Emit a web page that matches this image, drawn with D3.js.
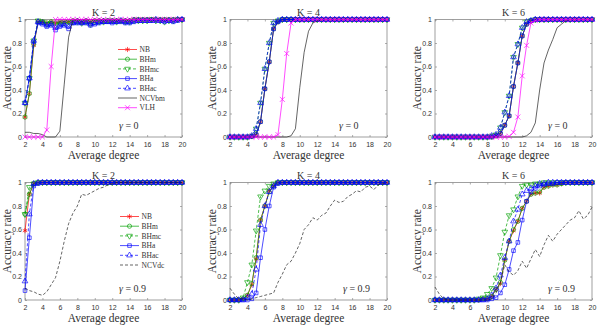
<!DOCTYPE html>
<html>
<head>
<meta charset="utf-8">
<script src="https://cdn.jsdelivr.net/npm/d3@7"></script>
<style>
  body { margin: 0; background: #fff; }
  svg { display: block; }
  .tick text { font-family: "Liberation Sans", Arial, sans-serif; font-size: 7px; fill: #333; }
  .lbl { font-family: "Liberation Serif", "DejaVu Serif", serif; fill: #333; }
</style>
</head>
<body>
<div id="chart"></div>
<script>
// x positions (average degree) and tick labels
const degrees = [2, 2.5, 3, 3.5, 4, 4.5, 5, 5.5, 6, 6.5, 7, 7.5, 8, 8.5, 9, 9.5, 10, 10.5, 11, 11.5,
  12, 12.5, 13, 13.5, 14, 14.5, 15, 15.5, 16, 16.5, 17, 17.5, 18, 18.5, 19, 19.5, 20];
const xTicks = [2, 4, 6, 8, 10, 12, 14, 16, 18, 20];
const yTicks = [0, 0.2, 0.4, 0.6, 0.8, 1];

// K = 2, gamma = 0
const k2g0_NB   = [0.17,0.37,0.78,0.98,0.98,0.97,0.98,0.97,0.98,0.98,0.98,0.99,0.99,0.98,0.99,0.98,0.99,0.99,0.99,0.99,0.99,0.99,0.99,0.99,0.99,1,1,1,1,1,1,1,1,1,1,1,1];
const k2g0_BHm  = [0.17,0.37,0.79,0.98,0.98,0.97,0.98,0.97,0.98,0.98,0.98,0.99,0.99,0.98,0.99,0.98,0.99,0.99,0.99,0.99,0.99,0.99,0.99,0.99,0.99,1,1,1,1,1,1,1,1,1,1,1,1];
const k2g0_BHmc = [0.29,0.5,0.82,0.99,0.98,0.96,0.97,0.95,0.97,0.97,0.98,0.98,0.98,0.97,0.98,0.96,0.98,0.98,0.98,0.99,0.99,0.98,0.99,0.98,0.98,0.99,0.99,0.99,0.99,1,0.99,0.99,0.98,0.99,0.99,1,1];
const k2g0_BHa  = [0.29,0.5,0.81,0.97,0.96,0.94,0.95,0.91,0.94,0.95,0.92,0.97,0.97,0.97,0.97,0.95,0.96,0.97,0.98,0.98,0.97,0.98,0.98,0.97,0.97,0.98,0.99,0.99,0.99,0.99,0.99,0.99,0.98,0.99,0.98,0.99,1];
const k2g0_BHac = [0.29,0.5,0.82,0.98,0.97,0.95,0.96,0.93,0.95,0.96,0.94,0.97,0.98,0.97,0.98,0.96,0.97,0.98,0.98,0.98,0.98,0.98,0.99,0.98,0.98,0.99,0.99,0.99,0.99,0.99,1,0.99,0.99,0.99,0.99,1,1];
const k2g0_NCV  = [0.04,0.04,0.03,0.03,0.02,0,0,0,0.05,0.45,0.85,1,1,1,1,1,1,1,1,1,1,1,1,1,1,1,1,1,1,1,1,1,1,1,1,1,1];
const k2g0_VLH  = [0,0,0,0,0,0.06,0.6,1,1,1,1,1,1,1,1,1,1,1,1,1,1,1,1,1,1,1,1,1,1,1,1,1,1,1,1,1,1];

// K = 4, gamma = 0
const k4g0_NB   = [0,0,0,0,0,0.005,0.02,0.13,0.41,0.64,0.92,0.98,1,1,1,1,1,1,1,1,1,1,1,1,1,1,1,1,1,1,1,1,1,1,1,1,1];
const k4g0_BHm  = [0,0,0,0,0,0.005,0.02,0.13,0.41,0.64,0.92,0.98,1,1,1,1,1,1,1,1,1,1,1,1,1,1,1,1,1,1,1,1,1,1,1,1,1];
const k4g0_BHmc = [0,0,0,0,0,0.01,0.07,0.29,0.58,0.8,0.97,0.99,1,1,1,1,1,1,1,1,1,1,1,1,1,1,1,1,1,1,1,1,1,1,1,1,1];
const k4g0_BHa  = [0,0,0,0,0,0.005,0.02,0.13,0.41,0.64,0.92,0.98,1,1,1,1,1,1,1,1,1,1,1,1,1,1,1,1,1,1,1,1,1,1,1,1,1];
const k4g0_BHac = [0,0,0,0,0,0.01,0.07,0.29,0.58,0.8,0.97,0.99,1,1,1,1,1,1,1,1,1,1,1,1,1,1,1,1,1,1,1,1,1,1,1,1,1];
const k4g0_NCV  = [0,0,0,0,0,0,0,0,0,0,0,0,0,0,0.01,0.07,0.42,0.72,0.9,0.97,0.99,1,1,1,1,1,1,1,1,1,1,1,1,1,1,1,1];
const k4g0_VLH  = [0,0,0,0,0,0,0,0,0,0,0,0.02,0.32,0.71,0.97,1,1,1,1,1,1,1,1,1,1,1,1,1,1,1,1,1,1,1,1,1,1];

// K = 6, gamma = 0
const k6g0_NB   = [0,0,0,0,0,0,0,0,0,0,0,0,0,0,0.01,0.03,0.1,0.18,0.43,0.63,0.86,0.96,0.99,1,1,1,1,1,1,1,1,1,1,1,1,1,1];
const k6g0_BHm  = [0,0,0,0,0,0,0,0,0,0,0,0,0,0,0.01,0.03,0.1,0.18,0.43,0.63,0.86,0.96,0.99,1,1,1,1,1,1,1,1,1,1,1,1,1,1];
const k6g0_BHmc = [0,0,0,0,0,0,0,0,0,0,0,0,0,0.01,0.02,0.08,0.21,0.35,0.68,0.79,0.93,0.98,0.99,1,1,1,1,1,1,1,1,1,1,1,1,1,1];
const k6g0_BHa  = [0,0,0,0,0,0,0,0,0,0,0,0,0,0,0.01,0.03,0.1,0.18,0.43,0.63,0.86,0.96,0.99,1,1,1,1,1,1,1,1,1,1,1,1,1,1];
const k6g0_BHac = [0,0,0,0,0,0,0,0,0,0,0,0,0,0.01,0.02,0.08,0.21,0.35,0.68,0.79,0.93,0.98,0.99,1,1,1,1,1,1,1,1,1,1,1,1,1,1];
const k6g0_NCV  = [0,0,0,0,0,0,0,0,0,0,0,0,0,0,0,0,0,0,0,0,0,0.01,0.04,0.12,0.4,0.63,0.74,0.83,0.93,0.96,0.99,1,1,1,1,1,1];
const k6g0_VLH  = [0,0,0,0,0,0,0,0,0,0,0,0,0,0,0,0,0,0.005,0.04,0.17,0.52,0.78,0.97,0.99,1,1,1,1,1,1,1,1,1,1,1,1,1];

// K = 2, gamma = 0.9
const k2g9_NB   = [0.59,0.9,0.99,1,1,1,1,1,1,1,1,1,1,1,1,1,1,1,1,1,1,1,1,1,1,1,1,1,1,1,1,1,1,1,1,1,1];
const k2g9_BHm  = [0.73,0.9,0.99,1,1,1,1,1,1,1,1,1,1,1,1,1,1,1,1,1,1,1,1,1,1,1,1,1,1,1,1,1,1,1,1,1,1];
const k2g9_BHmc = [0.73,0.96,0.99,1,1,1,1,1,1,1,1,1,1,1,1,1,1,1,1,1,1,1,1,1,1,1,1,1,1,1,1,1,1,1,1,1,1];
const k2g9_BHa  = [0.08,0.53,0.97,0.99,1,1,1,1,1,1,1,1,1,1,1,1,1,1,1,1,1,1,1,1,1,1,1,1,1,1,1,1,1,1,1,1,1];
const k2g9_BHac = [0.16,0.73,0.99,1,1,1,1,1,1,1,1,1,1,1,1,1,1,1,1,1,1,1,1,1,1,1,1,1,1,1,1,1,1,1,1,1,1];
const k2g9_NCV  = [0.1,0.08,0.07,0.05,0.04,0.07,0.13,0.19,0.33,0.5,0.65,0.74,0.8,0.9,0.89,0.91,0.93,0.95,0.96,0.98,0.99,1,1,1,1,1,1,1,1,1,1,1,1,1,1,1,1];

// K = 4, gamma = 0.9
const k4g9_NB   = [0,0,0,0.01,0.04,0.13,0.35,0.68,0.8,0.93,0.97,1,1,1,1,1,1,1,1,1,1,1,1,1,1,1,1,1,1,1,1,1,1,1,1,1,1];
const k4g9_BHm  = [0,0,0,0.01,0.04,0.14,0.36,0.68,0.8,0.92,0.97,1,1,1,1,1,1,1,1,1,1,1,1,1,1,1,1,1,1,1,1,1,1,1,1,1,1];
const k4g9_BHmc = [0,0,0,0.02,0.15,0.3,0.59,0.88,0.93,0.97,0.99,1,1,1,1,1,1,1,1,1,1,1,1,1,1,1,1,1,1,1,1,1,1,1,1,1,1];
const k4g9_BHa  = [0,0,0,0,0,0.01,0.06,0.36,0.6,0.8,0.96,0.99,1,1,1,1,1,1,1,1,1,1,1,1,1,1,1,1,1,1,1,1,1,1,1,1,1];
const k4g9_BHac = [0,0,0,0,0.02,0.05,0.26,0.64,0.8,0.92,0.97,1,1,1,1,1,1,1,1,1,1,1,1,1,1,1,1,1,1,1,1,1,1,1,1,1,1];
const k4g9_NCV  = [0.1,0.05,0.01,0.01,0,0.01,0.02,0.03,0.04,0.05,0.06,0.15,0.22,0.3,0.33,0.4,0.48,0.6,0.64,0.7,0.68,0.72,0.74,0.8,0.85,0.83,0.84,0.88,0.9,0.93,0.92,0.96,0.97,0.94,0.98,0.99,1];

// K = 6, gamma = 0.9
const k6g9_NB   = [0,0,0,0,0,0,0,0,0,0,0,0.01,0.01,0.03,0.09,0.14,0.34,0.5,0.59,0.67,0.78,0.84,0.9,0.91,0.91,0.96,0.97,0.98,0.98,0.99,1,1,1,1,1,1,1];
const k6g9_BHm  = [0,0,0,0,0,0,0,0,0,0,0,0.01,0.01,0.03,0.09,0.15,0.34,0.5,0.6,0.67,0.78,0.84,0.9,0.91,0.92,0.96,0.97,0.98,0.98,0.99,1,1,1,1,1,1,1];
const k6g9_BHmc = [0,0,0,0,0,0,0,0,0,0,0.01,0.02,0.05,0.1,0.19,0.38,0.58,0.72,0.77,0.88,0.97,0.98,0.98,0.99,0.99,1,1,1,1,1,1,1,1,1,1,1,1];
const k6g9_BHa  = [0,0,0,0,0,0,0,0,0,0,0,0,0,0.01,0.02,0.06,0.13,0.26,0.42,0.49,0.68,0.84,0.92,0.95,0.97,0.98,0.99,0.99,1,1,1,1,1,1,1,1,1];
const k6g9_BHac = [0,0,0,0,0,0,0,0,0,0,0,0,0.01,0.04,0.1,0.21,0.36,0.5,0.67,0.77,0.9,0.93,0.95,0.97,0.99,0.99,1,1,1,1,1,1,1,1,1,1,1];
const k6g9_NCV  = [0.11,0.05,0.01,0,0,0,0,0,0,0,0,0,0,0.01,0.06,0.15,0.3,0.24,0.21,0.25,0.33,0.27,0.35,0.43,0.37,0.47,0.55,0.5,0.56,0.6,0.64,0.68,0.7,0.76,0.69,0.72,0.79];

// series styles
const styles = {
  NB:    { color: '#ff0000', dash: null,  marker: 'star' },
  BHm:   { color: '#00a000', dash: null,  marker: 'circle' },
  BHmc:  { color: '#00a000', dash: '3,2', marker: 'tridown' },
  BHa:   { color: '#0000ff', dash: null,  marker: 'square' },
  BHac:  { color: '#0000ff', dash: '3,2', marker: 'triup' },
  NCVbm: { color: '#222222', dash: null,  marker: null },
  VLH:   { color: '#ff00ff', dash: null,  marker: 'x' },
  NCVdc: { color: '#222222', dash: '3,2', marker: null }
};

const panels = [
  { K: 2, gamma: '0', row: 0, col: 0, legend: true, gx: 94,
    series: { NB: k2g0_NB, BHm: k2g0_BHm, BHmc: k2g0_BHmc, BHa: k2g0_BHa, BHac: k2g0_BHac, NCVbm: k2g0_NCV, VLH: k2g0_VLH } },
  { K: 4, gamma: '0', row: 0, col: 1, gx: 109,
    series: { NB: k4g0_NB, BHm: k4g0_BHm, BHmc: k4g0_BHmc, BHa: k4g0_BHa, BHac: k4g0_BHac, NCVbm: k4g0_NCV, VLH: k4g0_VLH } },
  { K: 6, gamma: '0', row: 0, col: 2, gx: 113,
    series: { NB: k6g0_NB, BHm: k6g0_BHm, BHmc: k6g0_BHmc, BHa: k6g0_BHa, BHac: k6g0_BHac, NCVbm: k6g0_NCV, VLH: k6g0_VLH } },
  { K: 2, gamma: '0.9', row: 1, col: 0, legend: true, gx: 94,
    series: { NB: k2g9_NB, BHm: k2g9_BHm, BHmc: k2g9_BHmc, BHa: k2g9_BHa, BHac: k2g9_BHac, NCVdc: k2g9_NCV } },
  { K: 4, gamma: '0.9', row: 1, col: 1, gx: 113,
    series: { NB: k4g9_NB, BHm: k4g9_BHm, BHmc: k4g9_BHmc, BHa: k4g9_BHa, BHac: k4g9_BHac, NCVdc: k4g9_NCV } },
  { K: 6, gamma: '0.9', row: 1, col: 2, gx: 113,
    series: { NB: k6g9_NB, BHm: k6g9_BHm, BHmc: k6g9_BHmc, BHa: k6g9_BHa, BHac: k6g9_BHac, NCVdc: k6g9_NCV } }
];

// layout
const colLeft = [25, 230, 435];
const rowTop = [19.5, 182.5];
const pw = 157, ph = 117.5;

const svg = d3.select('#chart').append('svg')
  .attr('width', 598).attr('height', 332);

function markerShape(type) {
  const sym = d3.symbol();
  if (type === 'circle') return sym.type(d3.symbolCircle).size(14)();
  if (type === 'square') return sym.type(d3.symbolSquare).size(13)();
  if (type === 'triup') return sym.type(d3.symbolTriangle).size(14)();
  if (type === 'tridown') return sym.type(d3.symbolTriangle).size(14)();
  if (type === 'star') return sym.type(d3.symbolAsterisk).size(18)();
  if (type === 'x') return sym.type(d3.symbolTimes).size(18)();
  return null;
}

function drawMarkers(g, pts, st) {
  g.selectAll(null).data(pts).enter().append('path')
    .attr('d', markerShape(st.marker))
    .attr('transform', d => `translate(${d[0]},${d[1]})` + (st.marker === 'tridown' ? ' rotate(180)' : ''))
    .attr('fill', 'none')
    .attr('stroke', st.color)
    .attr('stroke-width', 0.65);
}

panels.forEach(p => {
  const left = colLeft[p.col], top = rowTop[p.row];
  const x = d3.scaleLinear().domain([2, 20]).range([left, left + pw]);
  const y = d3.scaleLinear().domain([0, 1]).range([top + ph, top]);
  const g = svg.append('g');

  // axes with inward ticks
  const axB = g.append('g').attr('transform', `translate(0,${top + ph})`)
    .call(d3.axisBottom(x).tickValues(xTicks).tickSizeInner(-2).tickSizeOuter(0).tickPadding(5));
  const axL = g.append('g').attr('transform', `translate(${left},0)`)
    .call(d3.axisLeft(y).tickValues(yTicks).tickSizeInner(-2).tickSizeOuter(0).tickPadding(3).tickFormat(d => String(d)));
  const axT = g.append('g').attr('transform', `translate(0,${top})`)
    .call(d3.axisTop(x).tickValues(xTicks).tickSizeInner(-2).tickSizeOuter(0).tickFormat(''));
  const axR = g.append('g').attr('transform', `translate(${left + pw},0)`)
    .call(d3.axisRight(y).tickValues(yTicks).tickSizeInner(-2).tickSizeOuter(0).tickFormat(''));
  [axB, axL, axT, axR].forEach(a => {
    a.select('.domain').remove();
    a.selectAll('.tick line').attr('stroke', '#777').attr('stroke-width', 0.6);
  });

  g.append('rect')
    .attr('x', left).attr('y', top).attr('width', pw).attr('height', ph)
    .attr('fill', 'none').attr('stroke', '#888').attr('stroke-width', 0.8);

  // lines and markers
  const line = d3.line().x(d => d[0]).y(d => d[1]);
  Object.keys(p.series).forEach(name => {
    const st = styles[name];
    const pts = p.series[name].map((v, i) => [x(degrees[i]), y(v)]);
    g.append('path')
      .attr('d', line(pts))
      .attr('fill', 'none')
      .attr('stroke', st.color)
      .attr('stroke-width', 0.7)
      .attr('stroke-dasharray', st.dash);
    if (st.marker) drawMarkers(g, pts, st);
  });

  // title and labels
  const cx = left + pw / 2;
  g.append('text').attr('class', 'lbl')
    .attr('x', cx).attr('y', top - 4)
    .attr('text-anchor', 'middle').style('font-size', '10px')
    .text(`K = ${p.K}`);
  g.append('text').attr('class', 'lbl')
    .attr('x', cx).attr('y', top + ph + 22)
    .attr('text-anchor', 'middle').style('font-size', '11.5px')
    .text('Average degree');
  g.append('text').attr('class', 'lbl')
    .attr('transform', `translate(${left - 14},${top + ph / 2}) rotate(-90)`)
    .attr('text-anchor', 'middle').style('font-size', '11.5px')
    .text('Accuracy rate');

  const gt = g.append('text').attr('class', 'lbl')
    .attr('x', left + p.gx)
    .attr('y', top + ph - 8).style('font-size', '10px');
  gt.append('tspan').style('font-style', 'italic').text('γ');
  gt.append('tspan').text(` = ${p.gamma}`);

  // legend
  if (p.legend) {
    const names = Object.keys(p.series);
    const lx = left + (p.row === 0 ? 93 : 95);
    const ly = top + (p.row === 0 ? 30 : 34);
    names.forEach((name, i) => {
      const st = styles[name];
      const yy = ly + i * 9.7;
      g.append('line')
        .attr('x1', lx).attr('x2', lx + 19).attr('y1', yy).attr('y2', yy)
        .attr('stroke', st.color).attr('stroke-width', 0.7)
        .attr('stroke-dasharray', st.dash);
      if (st.marker) drawMarkers(g, [[lx + 9.5, yy]], st);
      g.append('text').attr('class', 'lbl')
        .attr('x', lx + 21.5).attr('y', yy + 2.7)
        .style('font-size', '7.5px')
        .text(name);
    });
  }
});
</script>
</body>
</html>
